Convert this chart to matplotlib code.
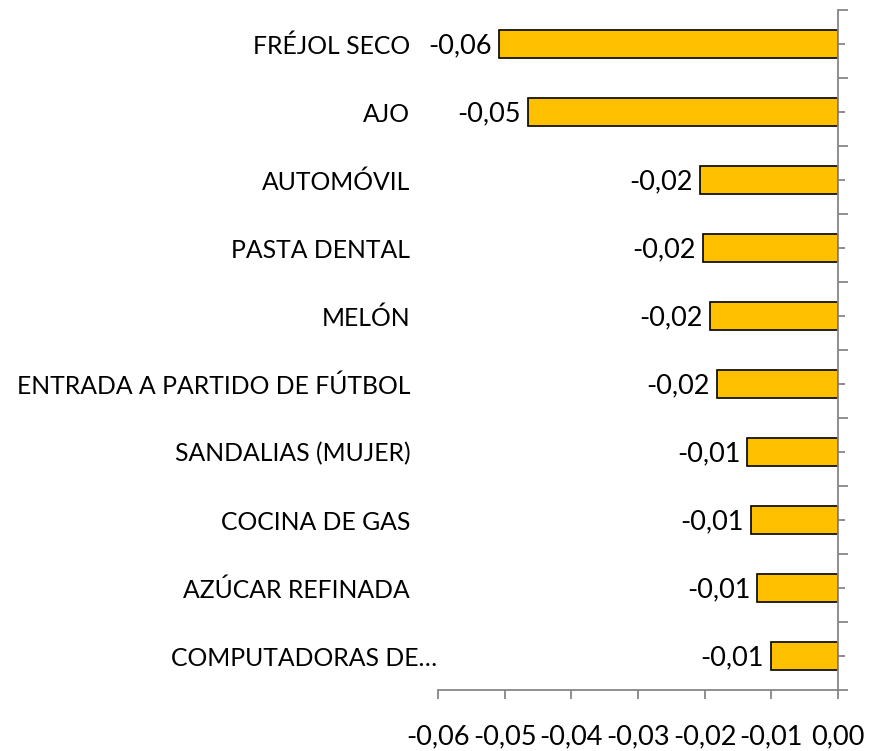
import numpy as np
import matplotlib.pyplot as plt
from matplotlib.ticker import FixedLocator, FuncFormatter
import matplotlib.transforms as mtransforms

# datos del grafico
productos = ["FRÉJOL SECO", "AJO", "AUTOMÓVIL", "PASTA DENTAL", "MELÓN",
             "ENTRADA A PARTIDO DE FÚTBOL", "SANDALIAS (MUJER)", "COCINA DE GAS",
             "AZÚCAR REFINADA", "COMPUTADORAS DE…"]
valores = [-0.0509, -0.0465, -0.0207, -0.0203, -0.0192, -0.0182,
           -0.0136, -0.0131, -0.0121, -0.0101]
etiquetas = ["-0,06", "-0,05", "-0,02", "-0,02", "-0,02", "-0,02",
             "-0,01", "-0,01", "-0,01", "-0,01"]
ticks_x = [-0.06, -0.05, -0.04, -0.03, -0.02, -0.01, 0.00]

plt.rcParams['font.family'] = ['Lato', 'DejaVu Sans']
fs = 17.8   # categorias
fn = 19.5   # numeros

fig = plt.figure(figsize=(8.83, 7.51), dpi=100)
ax = fig.add_axes([438/883, 1-690/751, 400/883, 680/751])

y = np.arange(len(productos))
ax.barh(y, valores, height=0.4, color="#FFC000", edgecolor="black", linewidth=1.2)
ax.set_xlim(-0.06, 0)
ax.set_ylim(len(productos)-0.5, -0.5)

# etiquetas de datos
for yi, v, t in zip(y, valores, etiquetas):
    ax.annotate(t, (v, yi), xytext=(-5, -1), textcoords="offset points",
                ha="right", va="center", fontsize=fn)

gris = "#868686"
for s in ["top", "left"]:
    ax.spines[s].set_visible(False)
ax.spines["right"].set_color(gris)
ax.spines["bottom"].set_color(gris)
ax.spines["right"].set_linewidth(1.3)
ax.spines["bottom"].set_linewidth(1.3)

ax.set_xticks(ticks_x)
ax.xaxis.set_major_formatter(FuncFormatter(lambda v, p: ("%.2f" % v).replace(".", ",").replace("-0,00", "0,00")))
ax.tick_params(axis="x", direction="out", length=6.5, width=1.3, color=gris,
               labelsize=fn, pad=18)

ax.yaxis.set_major_locator(FixedLocator(np.arange(-0.5, len(productos), 1)))
ax.yaxis.set_minor_locator(FixedLocator(y))
ax.set_yticks(y, productos, minor=True)
ax.set_yticklabels([], minor=False)
ax.tick_params(axis="y", which="both", left=False, right=True, labelleft=True,
               labelright=False, color=gris, width=1.3)
ax.tick_params(axis="y", which="major", length=7)
ax.tick_params(axis="y", which="minor", length=5, labelsize=fs, pad=15)

# la ultima etiqueta sale mas a la derecha
lbl = ax.get_yticklabels(minor=True)[-1]
lbl.set_transform(lbl.get_transform() + mtransforms.ScaledTranslation(27/100, -1/100, fig.dpi_scale_trans))

fig.savefig("out.png", dpi=100)
